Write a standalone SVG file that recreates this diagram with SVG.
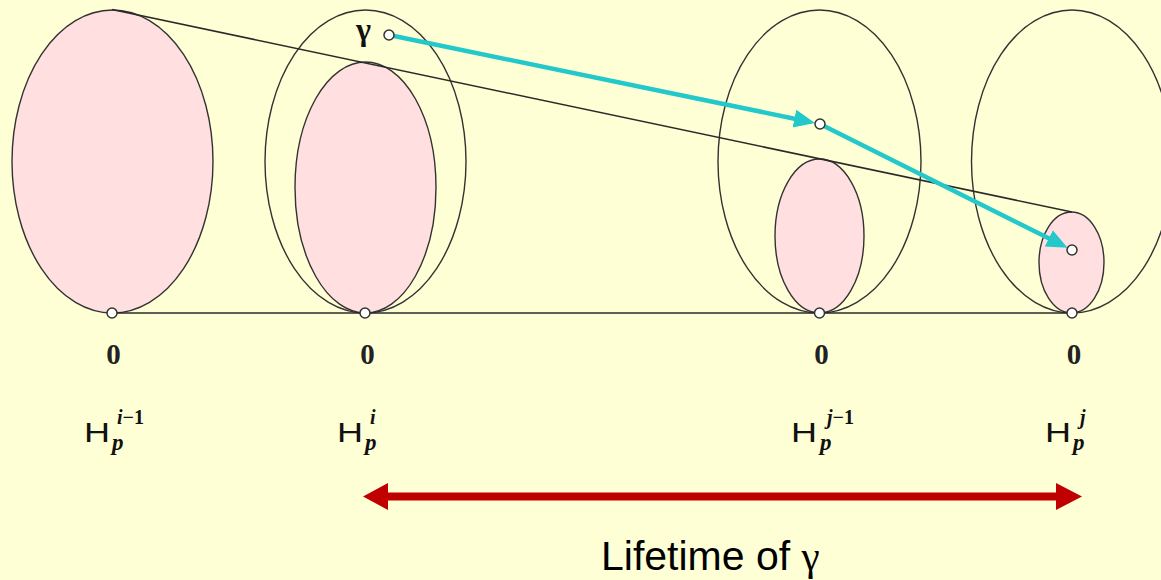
<svg xmlns="http://www.w3.org/2000/svg" width="1161" height="580" viewBox="0 0 1161 580">
<style>
.outer{fill:none;stroke:#333;stroke-width:1.4}
.pink{fill:#FFDFE0;stroke:#333;stroke-width:1.4}
.ln{stroke:#2a2a2a;stroke-width:1.5;fill:none}
.pt{fill:#fff;stroke:#333;stroke-width:1.5}
.cy{stroke:#22C8CA;stroke-width:4.5;fill:none;marker-end:url(#cyh)}
.zero{font-family:"Liberation Serif",serif;font-size:29px;font-weight:bold;fill:#222;text-anchor:middle}
.H{font-family:"Liberation Sans",sans-serif;font-size:27px;fill:#111}
.sub{font-family:"Liberation Serif",serif;font-size:23px;font-style:italic;font-weight:bold;fill:#111}
.sup{font-family:"Liberation Serif",serif;font-size:20px;font-weight:bold;fill:#111}
.gam{font-family:"Liberation Serif",serif;font-size:32px;font-weight:bold;fill:#111}
.life{font-family:"Liberation Sans",sans-serif;font-size:41px;fill:#000}
</style>
<defs>
<marker id="cyh" markerUnits="userSpaceOnUse" markerWidth="24" markerHeight="22" refX="10" refY="10" orient="auto">
<path d="M0,1 L21,10 L0,19 Z" fill="#22C8CA"/>
</marker>
</defs>
<rect width="1161" height="580" fill="#FFFFD6"/>
<g id="node-Hi-1">
<ellipse class="pink" cx="112.5" cy="161.5" rx="100.5" ry="151.5"/>
<text class="zero" x="113.5" y="364">0</text>
<text class="H" x="84" y="442" textLength="26" lengthAdjust="spacingAndGlyphs">H</text>
<text class="sub" x="112" y="450">p</text>
<text class="sup" x="117" y="424"><tspan font-style="italic">i</tspan>−1</text>
</g>
<g id="node-Hi">
<ellipse class="outer" cx="365.5" cy="161.5" rx="100.5" ry="151.5"/>
<ellipse class="pink" cx="365.5" cy="187.5" rx="70.5" ry="125.5"/>
<text class="zero" x="367.5" y="364">0</text>
<text class="H" x="337" y="442" textLength="26" lengthAdjust="spacingAndGlyphs">H</text>
<text class="sub" x="365" y="450">p</text>
<text class="sup" x="370" y="424"><tspan font-style="italic">i</tspan></text>
</g>
<g id="node-Hj-1">
<ellipse class="outer" cx="819.5" cy="161.5" rx="101.5" ry="151.5"/>
<ellipse class="pink" cx="819.5" cy="236" rx="44.5" ry="77"/>
<text class="zero" x="821.5" y="364">0</text>
<text class="H" x="791" y="442" textLength="26" lengthAdjust="spacingAndGlyphs">H</text>
<text class="sub" x="820" y="450">p</text>
<text class="sup" x="827" y="424"><tspan font-style="italic">j</tspan>−1</text>
</g>
<g id="node-Hj">
<ellipse class="outer" cx="1072" cy="161.5" rx="100.5" ry="151.5"/>
<ellipse class="pink" cx="1071.5" cy="262.5" rx="32.5" ry="50.5"/>
<text class="zero" x="1074" y="364">0</text>
<text class="H" x="1045" y="442" textLength="26" lengthAdjust="spacingAndGlyphs">H</text>
<text class="sub" x="1073" y="450">p</text>
<text class="sup" x="1080" y="424"><tspan font-style="italic">j</tspan></text>
</g>
<g id="connectors">
<line class="ln" x1="112" y1="9.5" x2="1072" y2="212"/>
<line class="ln" x1="112" y1="313" x2="1072" y2="313"/>
<line class="cy" x1="394" y1="36" x2="804.2" y2="120.7"/>
<line class="cy" x1="824.5" y1="126.2" x2="1057.7" y2="242.8"/>
<circle class="pt" cx="112" cy="313" r="5"/>
<circle class="pt" cx="365" cy="313" r="5"/>
<circle class="pt" cx="819.5" cy="313" r="5"/>
<circle class="pt" cx="1072" cy="313" r="5"/>
<circle class="pt" cx="389" cy="35" r="5"/>
<circle class="pt" cx="820" cy="124" r="5"/>
<circle class="pt" cx="1072" cy="250" r="5"/>
</g>
<g id="gamma-label">
<text class="gam" x="356" y="40">γ</text>
</g>
<g id="lifetime">
<line x1="386" y1="496.5" x2="1058" y2="496.5" stroke="#C00000" stroke-width="8"/>
<path d="M363,496.5 L388,483 L388,510 Z" fill="#C00000"/>
<path d="M1082,496.5 L1056,483 L1056,510 Z" fill="#C00000"/>
<text class="life" x="601" y="570">Lifetime of <tspan font-family="Liberation Serif, serif">γ</tspan></text>
</g>
</svg>
